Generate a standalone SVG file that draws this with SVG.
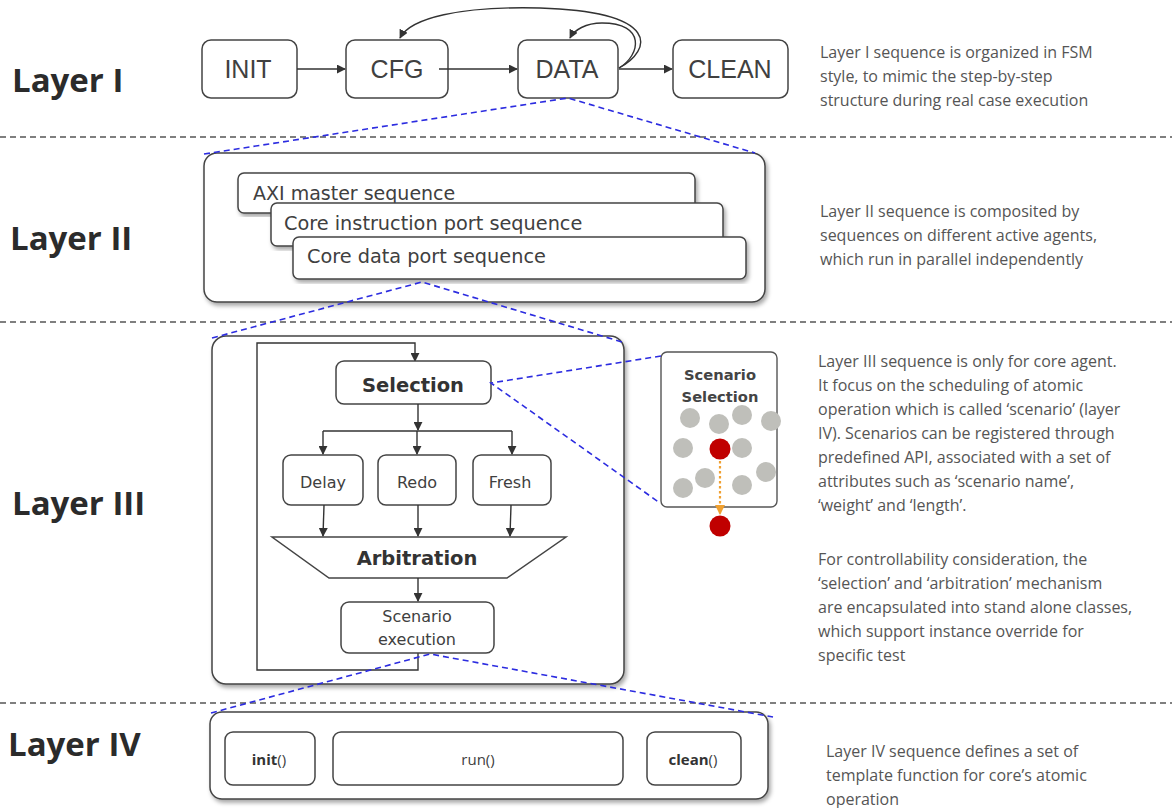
<svg xmlns="http://www.w3.org/2000/svg" width="1172" height="808" viewBox="0 0 1172 808">
<defs>
<filter id="sh" x="-5%" y="-5%" width="112%" height="115%">
<feDropShadow dx="2" dy="3" stdDeviation="2" flood-color="#000" flood-opacity="0.35"/>
</filter>
<marker id="ah" viewBox="0 0 10 10" refX="9" refY="5" markerWidth="9" markerHeight="9" markerUnits="userSpaceOnUse" orient="auto">
<path d="M0,0 L10,5 L0,10 z" fill="#333"/>
</marker>
<marker id="ao" viewBox="0 0 10 10" refX="9" refY="5" markerWidth="10" markerHeight="10" markerUnits="userSpaceOnUse" orient="auto">
<path d="M0,0 L10,5 L0,10 z" fill="#f0a030"/>
</marker>
</defs>
<style>
.box{fill:#fff;stroke:#444;stroke-width:1.5}
.fr{fill:#fff;stroke:#444;stroke-width:1.5;filter:url(#sh)}
.n{font-family:"Liberation Sans",Arial,sans-serif;fill:#404040;text-anchor:middle}
.dj{font-family:"DejaVu Sans",sans-serif;fill:#404040}
.djm{font-family:"DejaVu Sans",sans-serif;fill:#404040;text-anchor:middle}
.djb{font-family:"DejaVu Sans",sans-serif;font-weight:bold;fill:#333;text-anchor:middle}
.os{font-family:"Open Sans","Noto Sans",sans-serif;fill:#404040;text-anchor:middle}
.lay{font-family:"Open Sans","Noto Sans",sans-serif;font-weight:bold;font-size:33px;fill:#2b2b2b}
.d{font-family:"Open Sans","Noto Sans",sans-serif;font-size:16px;fill:#555}
.sep{stroke:#555;stroke-width:1.3;stroke-dasharray:6,4;fill:none}
.bl{stroke:#2c2ce0;stroke-width:1.6;stroke-dasharray:6,4;fill:none}
.c{stroke:#333;stroke-width:1.4;fill:none;marker-end:url(#ah)}
.g{fill:#bfbfba}
.r{fill:#c00000}
</style>
<rect width="1172" height="808" fill="#fff"/>

<g id="separators">
<line class="sep" x1="0" y1="137" x2="1172" y2="137"/>
<line class="sep" x1="0" y1="322" x2="1172" y2="322"/>
<line class="sep" x1="0" y1="703" x2="1172" y2="703"/>
</g>

<g id="layer-labels">
<text class="lay" x="12" y="92">Layer I</text>
<text class="lay" x="10" y="250">Layer II</text>
<text class="lay" x="12" y="515">Layer III</text>
<text class="lay" x="8" y="756">Layer IV</text>
</g>

<g id="descriptions">
<text class="d" x="820" y="58">Layer I sequence is organized in FSM</text>
<text class="d" x="820" y="82">style, to mimic the step-by-step</text>
<text class="d" x="820" y="106">structure during real case execution</text>
<text class="d" x="820" y="217">Layer II sequence is composited by</text>
<text class="d" x="820" y="241">sequences on different active agents,</text>
<text class="d" x="820" y="265">which run in parallel independently</text>
<text class="d" x="818" y="367">Layer III sequence is only for core agent.</text>
<text class="d" x="818" y="391">It focus on the scheduling of atomic</text>
<text class="d" x="818" y="415">operation which is called ‘scenario’ (layer</text>
<text class="d" x="818" y="439">IV). Scenarios can be registered through</text>
<text class="d" x="818" y="463">predefined API, associated with a set of</text>
<text class="d" x="818" y="487">attributes such as ‘scenario name’,</text>
<text class="d" x="818" y="511">‘weight’ and ‘length’.</text>
<text class="d" x="818" y="565">For controllability consideration, the</text>
<text class="d" x="818" y="589">‘selection’ and ‘arbitration’ mechanism</text>
<text class="d" x="818" y="613">are encapsulated into stand alone classes,</text>
<text class="d" x="818" y="637">which support instance override for</text>
<text class="d" x="818" y="661">specific test</text>
<text class="d" x="826" y="757">Layer IV sequence defines a set of</text>
<text class="d" x="826" y="781">template function for core’s atomic</text>
<text class="d" x="826" y="805">operation</text>
</g>

<!-- Layer I -->
<g id="INIT"><rect class="box" x="202" y="40" width="95" height="58" rx="9"/><text class="n" x="248" y="78" font-size="25">INIT</text></g>
<g id="CFG"><rect class="box" x="346" y="40" width="102" height="58" rx="9"/><text class="n" x="397" y="78" font-size="25">CFG</text></g>
<g id="DATA"><rect class="box" x="518" y="40" width="100" height="58" rx="9"/><text class="n" x="567" y="78" font-size="25">DATA</text></g>
<g id="CLEAN"><rect class="box" x="673" y="40" width="115" height="58" rx="9"/><text class="n" x="730" y="78" font-size="25">CLEAN</text></g>

<!-- Layer II -->
<g id="layer2">
<rect class="fr" x="204" y="153" width="561" height="149" rx="13"/>
<g id="axi"><rect class="fr" x="238" y="173" width="457" height="40" rx="6"/><text class="dj" x="253" y="200" font-size="19">AXI master sequence</text></g>
<g id="coreinst"><rect class="fr" x="271" y="203" width="452" height="43" rx="6"/><text class="dj" x="284" y="230" font-size="19.3">Core instruction port sequence</text></g>
<g id="coredata"><rect class="fr" x="293" y="237" width="453" height="42" rx="6"/><text class="dj" x="307" y="263" font-size="19.3">Core data port sequence</text></g>
</g>

<!-- Layer III -->
<g id="layer3">
<rect class="fr" x="212" y="336" width="412" height="348" rx="14"/>
</g>
<g id="loop">
<path d="M418,653 L418,670 L257,670 L257,343 L415,343 L415,361" class="c"/>
</g>
<g id="Selection"><rect class="box" x="336" y="361" width="155" height="43" rx="8"/><text class="djb" x="413" y="392" font-size="19.5">Selection</text></g>
<g id="Delay"><rect class="box" x="283" y="455" width="80" height="50" rx="8"/><text class="djm" x="323" y="488" font-size="16">Delay</text></g>
<g id="Redo"><rect class="box" x="378" y="455" width="78" height="50" rx="8"/><text class="djm" x="417" y="488" font-size="16">Redo</text></g>
<g id="Fresh"><rect class="box" x="473" y="455" width="78" height="50" rx="8"/><text class="djm" x="510" y="488" font-size="16">Fresh</text></g>
<g id="Arbitration"><path class="box" d="M272,537 L566,537 L507,578 L329,578 z"/><text class="djb" x="417" y="565" font-size="19.5">Arbitration</text></g>
<g id="ScenarioExec"><rect class="box" x="341" y="602" width="153" height="51" rx="8"/><text class="djm" x="417" y="622" font-size="16">Scenario</text><text class="djm" x="417" y="645" font-size="16">execution</text></g>

<g id="ScenarioSelection">
<rect x="661" y="352" width="116" height="155" rx="6" fill="#fff" stroke="#555" stroke-width="1.4"/>
<text class="djb" x="720" y="380" font-size="14.7" style="fill:#444">Scenario</text>
<text class="djb" x="720" y="402" font-size="14.7" style="fill:#444">Selection</text>
<circle class="g" cx="690" cy="418" r="10"/>
<circle class="g" cx="719" cy="424" r="10"/>
<circle class="g" cx="742" cy="415" r="10"/>
<circle class="g" cx="771" cy="421" r="10"/>
<circle class="g" cx="683" cy="448" r="10"/>
<circle class="g" cx="742" cy="448" r="10"/>
<circle class="g" cx="766" cy="472" r="10"/>
<circle class="g" cx="705" cy="478" r="10"/>
<circle class="g" cx="683" cy="488" r="10"/>
<circle class="g" cx="742" cy="485" r="10"/>
<circle class="r" cx="720" cy="449" r="10.5"/>
<line x1="720" y1="461" x2="720" y2="514" stroke="#f0a030" stroke-width="2.2" stroke-dasharray="2.5,2.5" marker-end="url(#ao)"/>
<circle class="r" cx="720" cy="526" r="10.5"/>
</g>

<!-- Layer IV -->
<g id="layer4">
<rect class="fr" x="210" y="712" width="558" height="87" rx="12"/>
<g id="init"><rect class="box" x="225" y="732" width="90" height="53" rx="8"/><text class="os" x="269" y="765" font-size="15"><tspan font-weight="bold" style="fill:#333">init</tspan>()</text></g>
<g id="run"><rect class="box" x="333" y="732" width="290" height="53" rx="8"/><text class="os" x="478" y="765" font-size="15">run()</text></g>
<g id="clean"><rect class="box" x="647" y="732" width="94" height="53" rx="8"/><text class="os" x="693" y="765" font-size="15"><tspan font-weight="bold" style="fill:#333">clean</tspan>()</text></g>
</g>

<g id="connectors">
<line class="c" x1="297" y1="69" x2="345" y2="69"/>
<line class="c" x1="439" y1="69" x2="517" y2="69"/>
<line class="c" x1="619" y1="69" x2="672" y2="69"/>
<path class="c" d="M619,68 C652,50 662,12 540,8 C460,6 410,18 400,38"/>
<path class="c" d="M619,68 C641,55 646,23 602,23 C586,23 574,30 570,38"/>
<line class="c" x1="418" y1="404" x2="418" y2="430"/>
<path d="M323,431 L512,431" stroke="#333" stroke-width="1.4" fill="none"/>
<line class="c" x1="323" y1="431" x2="323" y2="454"/>
<line class="c" x1="417" y1="431" x2="417" y2="454"/>
<line class="c" x1="512" y1="431" x2="512" y2="454"/>
<line class="c" x1="324" y1="505" x2="323" y2="536"/>
<line class="c" x1="418" y1="505" x2="418" y2="536"/>
<line class="c" x1="511" y1="505" x2="510" y2="536"/>
<line class="c" x1="418" y1="578" x2="418" y2="601"/>
<path class="bl" d="M204,154 L568,98 L755,153"/>
<path class="bl" d="M212,338 L422,282 L622,342"/>
<path class="bl" d="M661,356 L491,383 L660,503"/>
<path class="bl" d="M211,713 L430,654 L773,717"/>
</g>
</svg>
